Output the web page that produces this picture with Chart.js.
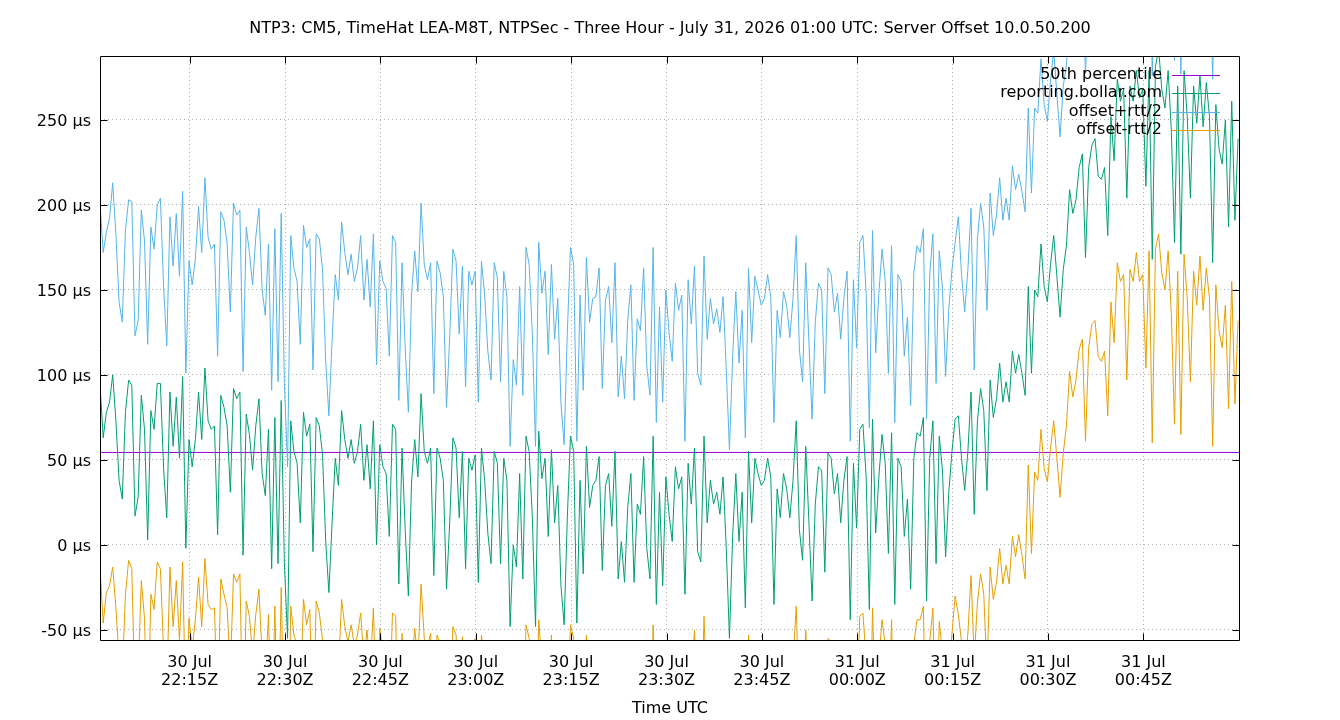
<!DOCTYPE html>
<html><head><meta charset="utf-8">
<script src="https://cdn.jsdelivr.net/npm/chart.js@4"></script>
<style>html,body{margin:0;padding:0;background:#fff}#wrap{width:1340px;height:720px}</style>
</head><body><div id="wrap"><canvas id="c" width="1340" height="720"></canvas></div>
<script>
const titleText = "NTP3: CM5, TimeHat LEA-M8T, NTPSec - Three Hour - July 31, 2026 01:00 UTC: Server Offset 10.0.50.200";
const xAxisTitle = "Time UTC";
// sample times: minutes after 30 Jul 22:00 UTC
const startMinute = 0.9;
const stepMinutes = 0.5;
// clock offset reported for reporting.bollar.com (µs)
const offsetUs = [
94,63,78,84,100,73,38,27,78,97,94,17,28,88,68,3,79,68,95,95,45,16,90,58,87,51,99,-2,62,46,62,90,62,104,73,68,70,6,88,81,70,31,92,86,90,
-6,77,65,44,70,86,42,29,68,-14,75,-11,85,-11,-55,73,55,48,13,78,64,71,-4,75,70,53,2,-28,13,51,35,79,62,51,62,48,55,71,38,59,33,73,0,59,46,
42,5,71,68,-23,57,9,-30,37,62,40,89,55,48,57,-18,57,51,38,-26,13,63,57,16,55,-14,51,44,53,-22,57,38,7,-11,55,48,-11,51,38,-48,0,-13,42,-20,64,
55,16,-48,67,39,51,5,56,13,35,-24,-47,16,64,55,-46,38,-17,58,22,35,38,52,-15,35,42,11,55,-20,2,-22,22,42,-22,24,18,52,-2,-20,64,-35,31,-24,40,18,
2,46,33,40,-29,48,24,57,-4,-10,64,13,38,24,31,18,40,-2,-55,5,42,2,31,-37,55,13,51,42,35,38,51,40,-35,33,16,42,33,16,38,73,9,-9,58,13,-33,
24,46,44,-16,54,51,30,42,13,38,52,-44,48,10,68,71,40,-38,74,7,40,65,48,-5,66,-35,51,46,5,27,-26,51,66,64,75,-33,51,73,-11,64,44,-7,31,55,74,
76,51,32,55,90,18,73,92,79,32,97,75,86,107,84,96,84,114,101,112,101,88,152,101,150,146,177,152,143,165,182,158,134,162,176,209,195,203,222,230,169,222,235,239,217,
215,222,182,252,226,274,261,268,204,270,261,279,263,268,211,279,168,281,292,268,257,279,244,178,270,171,279,252,204,270,248,276,246,272,252,166,259,233,224,250,187,261,191,239
];
// round trip time (µs)
const rttUs = [
214,218,212,216,226,220,210,208,214,212,216,212,208,218,222,230,216,212,210,218,214,202,206,212,216,214,218,206,210,214,212,218,220,224,216,212,214,210,216,220,214,212,218,216,214,
216,220,214,218,222,224,216,212,218,210,222,214,220,212,202,218,216,214,210,220,222,218,214,216,220,218,212,208,214,216,218,222,220,216,218,214,216,222,212,218,214,220,212,216,218,
218,212,222,220,216,218,214,216,220,222,218,224,220,216,218,214,220,218,216,214,218,222,220,216,218,214,220,218,216,212,220,218,214,216,222,218,214,220,216,212,218,214,220,216,222,
220,216,212,222,218,220,214,218,216,220,214,212,218,222,220,214,218,216,222,218,220,216,222,214,218,220,216,222,214,218,216,220,222,214,218,216,222,214,216,222,214,218,216,220,214,
212,216,210,214,180,216,212,214,210,208,212,216,214,212,216,214,212,210,222,212,214,210,214,200,216,212,214,216,212,214,216,212,214,210,212,214,216,212,214,218,212,210,216,212,214,
214,216,212,210,218,216,214,212,216,214,218,210,216,212,220,222,216,214,222,212,216,218,214,212,220,214,216,218,212,214,216,218,220,216,222,214,216,220,212,218,214,212,216,214,208,
234,216,210,214,216,170,214,218,216,212,220,214,216,218,214,216,214,218,216,212,214,216,210,212,214,216,218,214,212,216,218,214,212,216,212,214,216,212,214,218,216,212,210,214,212,
214,216,212,218,214,216,212,218,214,216,212,214,216,218,214,212,216,214,218,216,214,212,216,214,218,212,216,214,216,218,214,212,216,218,214,216,212,214,216,218,214,212,216,214
];
const percentile50Us = 54.4;
const xRangeMinutes = [0.9, 180.2];
const yRangeUs = [-56.5, 287.6];
const xTickMinutes = [15,30,45,60,75,90,105,120,135,150,165];
const xTickLabels = [["30 Jul","22:15Z"],["30 Jul","22:30Z"],["30 Jul","22:45Z"],["30 Jul","23:00Z"],["30 Jul","23:15Z"],["30 Jul","23:30Z"],["30 Jul","23:45Z"],["31 Jul","00:00Z"],["31 Jul","00:15Z"],["31 Jul","00:30Z"],["31 Jul","00:45Z"]];
const yTickValues = [-50,0,50,100,150,200,250];
const seriesNames = ["50th percentile","reporting.bollar.com","offset+rtt/2","offset-rtt/2"];
const seriesColors = ["#9400d3","#009e73","#56b4e9","#e69f00"];

const FONT = 'DejaVu Sans';
const FS = 16;
const times = offsetUs.map((_, i) => startMinute + i * stepMinutes);
const greenData = offsetUs.map((v, i) => ({x: times[i], y: v}));
const blueData = offsetUs.map((v, i) => ({x: times[i], y: v + rttUs[i] / 2}));
const orangeData = offsetUs.map((v, i) => ({x: times[i], y: v - rttUs[i] / 2}));
const pctData = [{x: xRangeMinutes[0], y: percentile50Us}, {x: xRangeMinutes[1], y: percentile50Us}];

const framePlugin = {
  id: 'frame',
  afterDraw(chart) {
    const {ctx, chartArea: a, scales: {x, y}} = chart;
    const L = Math.round(a.left) + 0.5, R = Math.round(a.right) - 0.5, T = Math.round(a.top) + 0.5, B = Math.round(a.bottom) - 0.5;
    ctx.save();
    ctx.strokeStyle = '#000'; ctx.lineWidth = 1; ctx.setLineDash([]);
    ctx.beginPath();
    ctx.moveTo(L, T); ctx.lineTo(R, T); ctx.lineTo(R, B); ctx.lineTo(L, B); ctx.closePath();
    xTickMinutes.forEach(v => {
      const px = Math.round(x.getPixelForValue(v)) + 0.5;
      ctx.moveTo(px, B); ctx.lineTo(px, B - 7);
      ctx.moveTo(px, T); ctx.lineTo(px, T + 7);
    });
    yTickValues.forEach(v => {
      const py = Math.round(y.getPixelForValue(v)) + 0.5;
      ctx.moveTo(L, py); ctx.lineTo(L + 7, py);
      ctx.moveTo(R, py); ctx.lineTo(R - 7, py);
    });
    ctx.stroke();
    ctx.font = FS + 'px "' + FONT + '"';
    ctx.textAlign = 'right'; ctx.textBaseline = 'middle'; ctx.fillStyle = '#000';
    seriesNames.forEach((name, i) => {
      const yy = a.top + 18.5 + i * 18.5;
      ctx.fillText(name, a.right - 78, yy);
      ctx.strokeStyle = seriesColors[i];
      ctx.beginPath();
      ctx.moveTo(a.right - 68, Math.round(yy) + 0.5); ctx.lineTo(a.right - 20, Math.round(yy) + 0.5);
      ctx.stroke();
    });
    ctx.restore();
  }
};

new Chart(document.getElementById('c'), {
  type: 'line',
  data: {
    datasets: [
      {label: seriesNames[0], data: pctData, borderColor: seriesColors[0], order: 4},
      {label: seriesNames[1], data: greenData, borderColor: seriesColors[1], order: 3},
      {label: seriesNames[2], data: blueData, borderColor: seriesColors[2], order: 2},
      {label: seriesNames[3], data: orangeData, borderColor: seriesColors[3], order: 1}
    ]
  },
  options: {
    responsive: false, animation: false, devicePixelRatio: 1,
    elements: {line: {borderWidth: 1, tension: 0}, point: {radius: 0, hitRadius: 0}},
    layout: {padding: 0},
    plugins: {
      legend: {display: false}, tooltip: {enabled: false},
      title: {display: true, text: titleText, color: '#000', font: {family: FONT, size: FS, weight: 'normal', lineHeight: 1.2}, padding: {top: 19.4, bottom: 17.4}}
    },
    scales: {
      x: {
        type: 'linear', min: xRangeMinutes[0], max: xRangeMinutes[1],
        afterBuildTicks: s => { s.ticks = xTickMinutes.map(v => ({value: v})); },
        afterFit: s => { s.height = 79; },
        ticks: {autoSkip: false, maxRotation: 0, minRotation: 0, padding: 13, color: '#000',
          font: {family: FONT, size: FS, lineHeight: 1.125},
          callback: (v, i) => xTickLabels[i]},
        grid: {color: '#b0b0b0', drawTicks: false},
        border: {display: false, dash: [1, 3]},
        title: {display: true, text: xAxisTitle, color: '#000', font: {family: FONT, size: FS, lineHeight: 1.2}, padding: {top: 0, bottom: 2}}
      },
      y: {
        type: 'linear', min: yRangeUs[0], max: yRangeUs[1],
        afterBuildTicks: s => { s.ticks = yTickValues.map(v => ({value: v})); },
        afterFit: s => { s.width = 100; },
        ticks: {padding: 9, labelOffset: 2, color: '#000', font: {family: FONT, size: FS}, callback: v => v + ' µs'},
        grid: {color: '#b0b0b0', drawTicks: false},
        border: {display: false, dash: [1, 3]}
      },
      yRight: {
        type: 'linear', position: 'right', min: yRangeUs[0], max: yRangeUs[1],
        afterFit: s => { s.width = 100; },
        ticks: {display: false}, grid: {display: false}, border: {display: false}
      }
    }
  },
  plugins: [framePlugin]
});
</script></body></html>
